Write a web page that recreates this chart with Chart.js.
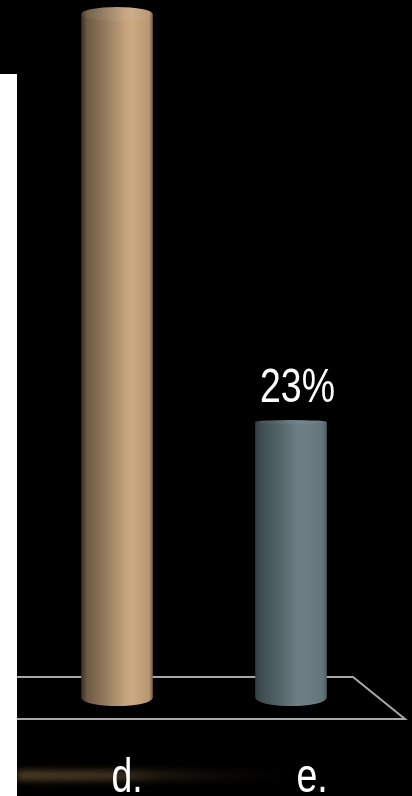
<!DOCTYPE html>
<html><head><meta charset="utf-8">
<style>
html,body{margin:0;padding:0;background:#000;overflow:hidden}
canvas{display:block;filter:blur(0.5px)}
#panel{position:absolute;left:0;top:74px;width:17px;height:722px;background:#fff}
</style>
<script src="https://cdn.jsdelivr.net/npm/chart.js@4"></script>
</head><body>
<canvas id="c" width="412" height="796"></canvas>
<div id="panel"></div>
<script>
const categories = ['d.', 'e.'];
const shares = [57, 23];
const shownLabels = [null, '23%'];
const labelShift = [10, 21];
const ramps = [
  ['#3f3324','#6e5a43','#967d60','#c2a07a','#cba983','#b89872','#7d6548'],
  ['#333f43','#3f4c50','#55656a','#6c7f85','#6c7e83','#62747a','#4f5e63']
];
const rampStops = [0,0.08,0.35,0.6,0.7,0.95,1];
const capRy = [7, 2];
const baseRy = 8;
const FONT = '"Liberation Sans",Arial,sans-serif';
const SQUEEZE = 0.78;

function ramp(ctx, x0, x1, colors){
  const g = ctx.createLinearGradient(x0,0,x1,0);
  colors.forEach((c,i)=>g.addColorStop(rampStops[i],c));
  return g;
}

const scene = {
  id:'scene',
  beforeDraw(chart){
    const c = chart.ctx, a = chart.chartArea;
    // glow streak on the label row
    c.save();
    c.filter='blur(3px)';
    const g=c.createLinearGradient(17,0,300,0);
    g.addColorStop(0,'#4a3a22');g.addColorStop(0.35,'#3c2f1e');g.addColorStop(0.5,'#1c160e');g.addColorStop(1,'rgba(10,8,5,0)');
    c.fillStyle=g;c.fillRect(17,a.bottom+72,283,11);
    c.restore();
    // floor
    c.save();
    c.strokeStyle='#a8a8a8';c.lineWidth=2;
    c.beginPath();
    c.moveTo(17,a.bottom-21);c.lineTo(353,a.bottom-21);c.lineTo(405,a.bottom+21);c.lineTo(17,a.bottom+21);
    c.stroke();
    c.restore();
    // labels are condensed and sit wider apart than the bars
    const x=chart.scales.x, items=x.getLabelItems(a);
    if(!items._nudged){
      items.forEach((it,i)=>{it.options.translation=[(it.options.translation[0]+labelShift[i])/SQUEEZE,it.options.translation[1]];});
      items._nudged=true;
    }
    if(!x._squeezed){
      const orig=x.drawLabels.bind(x);
      x._computeLabelArea=()=>undefined;
      x.drawLabels=function(ca){c.save();c.scale(SQUEEZE,1);orig(ca);c.restore();};
      x._squeezed=true;
    }
  },
  afterDatasetsDraw(chart){
    const c=chart.ctx;
    chart.getDatasetMeta(0).data.forEach((b,i)=>{
      const rx=b.width/2, l=b.x-rx, r=b.x+rx;
      c.save();
      c.fillStyle=ramp(c,l,r,ramps[i]);
      c.beginPath();c.ellipse(b.x,b.base,rx,baseRy,0,0,Math.PI);c.fill();
      c.beginPath();c.ellipse(b.x,b.y,rx,capRy[i],0,0,Math.PI*2);c.fill();
      c.fillStyle='rgba(255,255,255,0.05)';
      c.beginPath();c.ellipse(b.x,b.y,rx,capRy[i],0,0,Math.PI*2);c.fill();
      if(shownLabels[i]){
        c.fillStyle='#fff';c.font='48px '+FONT;c.textAlign='center';c.textBaseline='alphabetic';
        c.translate(b.x+6.5,402);c.scale(SQUEEZE,1);
        c.fillText(shownLabels[i],0,0);
      }
      c.restore();
    });
  }
};

const ctx=document.getElementById('c').getContext('2d');
new Chart(ctx,{
  type:'bar',
  data:{labels:categories,datasets:[{
    data:shares,
    barThickness:71,
    borderWidth:0,
    backgroundColor(cx){
      if(!cx.chart.chartArea||cx.type!=='data') return '#888';
      const x=cx.chart.scales.x.getPixelForValue(cx.dataIndex);
      return ramp(cx.chart.ctx,x-35.5,x+35.5,ramps[cx.dataIndex]);
    }
  }]},
  options:{
    responsive:false,animation:false,
    layout:{padding:{left:30,right:34,top:2,bottom:0}},
    plugins:{legend:{display:false},tooltip:{enabled:false}},
    scales:{
      x:{
        grid:{display:false},border:{display:false},
        ticks:{color:'#fff',padding:44,font:{size:48,family:FONT},maxRotation:0,autoSkip:false},
        afterFit(s){s.height=98;}
      },
      y:{display:false,min:0,max:58}
    }
  },
  plugins:[scene]
});
</script>
</body></html>
